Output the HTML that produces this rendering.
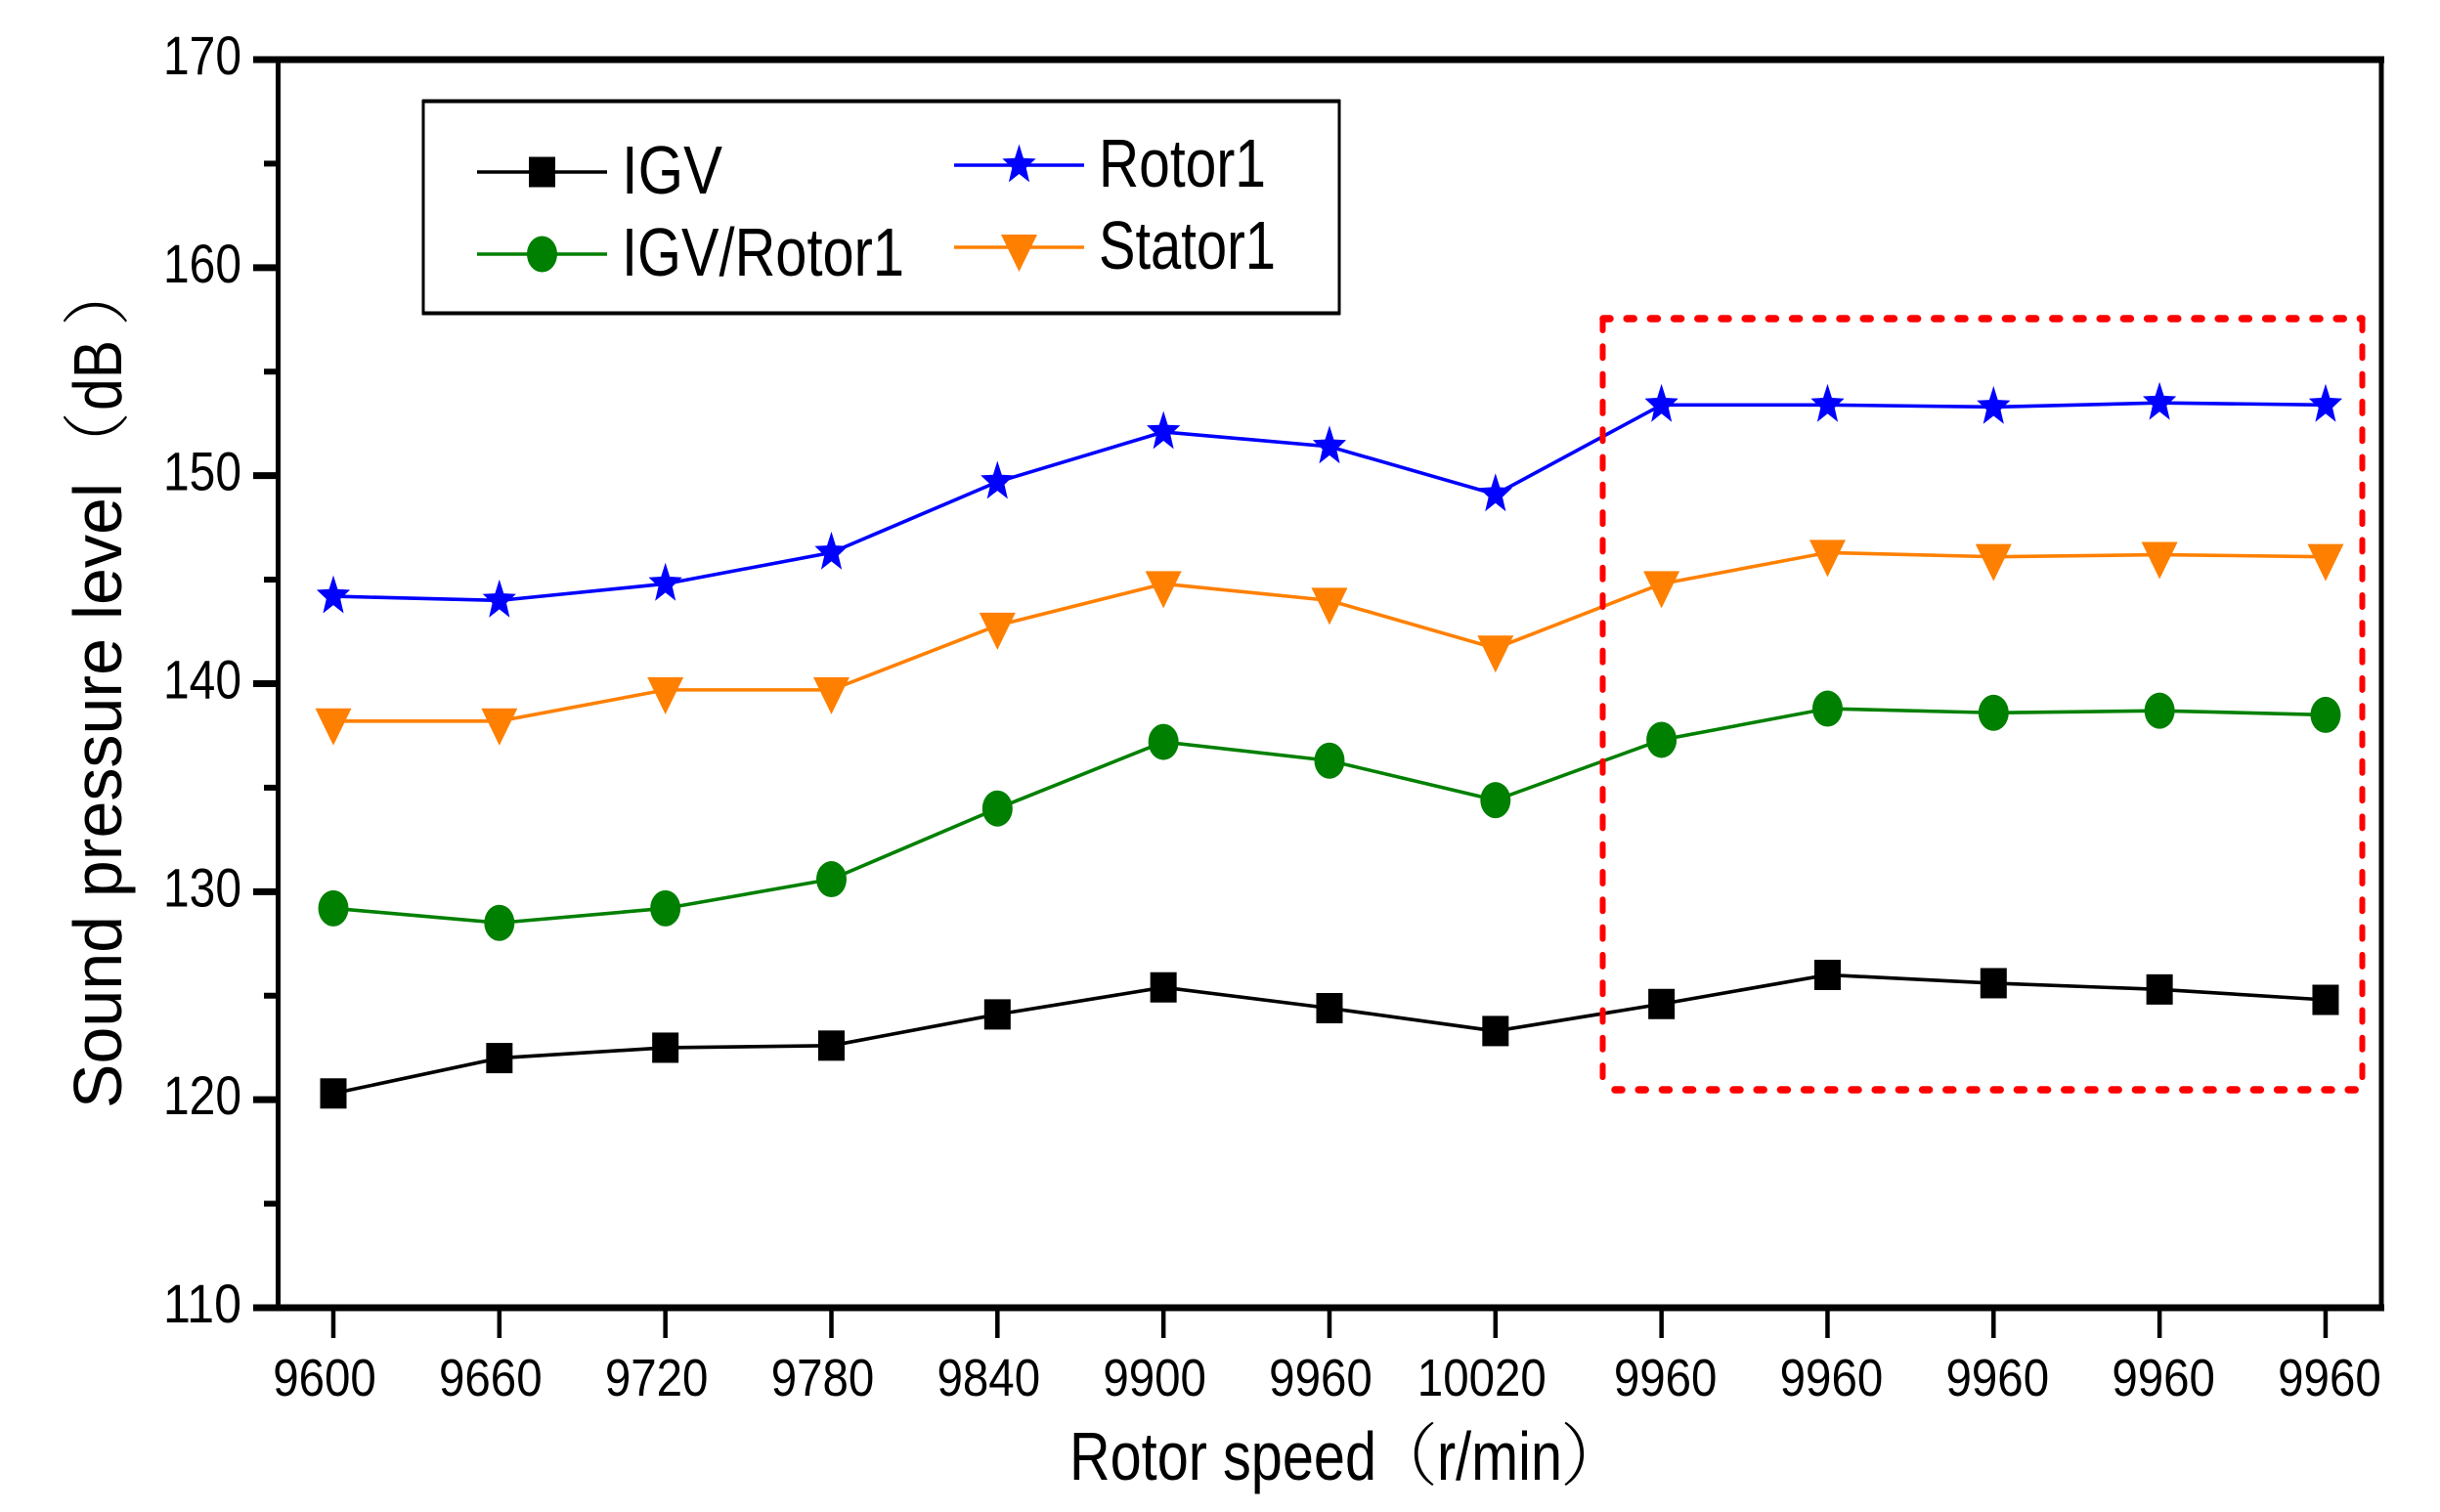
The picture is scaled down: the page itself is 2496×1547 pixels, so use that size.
<!DOCTYPE html>
<html lang="en">
<head>
<meta charset="utf-8">
<title>Sound pressure level vs rotor speed</title>
<style>
html,body{margin:0;padding:0;background:#fff;width:2496px;height:1547px;overflow:hidden}
svg{display:block}
text{font-family:"Liberation Sans","Noto Sans CJK SC",sans-serif;fill:#000}
.paren{font-family:"Noto Serif CJK SC","Noto Sans CJK SC",serif;font-weight:200}
</style>
</head>
<body>
<svg id="chart" xmlns="http://www.w3.org/2000/svg" width="2496" height="1547" viewBox="0 0 2496 1547">
  <rect x="0" y="0" width="2496" height="1547" fill="#fff"/>
  <text transform="translate(124,1134) rotate(-90)" font-size="70"><tspan x="0" textLength="640" lengthAdjust="spacingAndGlyphs">Sound pressure level</tspan><tspan class="paren" x="643">（</tspan><tspan x="714" textLength="72" lengthAdjust="spacingAndGlyphs">dB</tspan><tspan class="paren" x="800">）</tspan></text>
  <text y="1514" font-size="70"><tspan x="1094" textLength="314" lengthAdjust="spacingAndGlyphs">Rotor speed</tspan><tspan class="paren" x="1401">（</tspan><tspan x="1470" textLength="128" lengthAdjust="spacingAndGlyphs">r/min</tspan><tspan class="paren" x="1596">）</tspan></text>
  <g id="axes"></g>
  <g id="series"></g>
  <g stroke="#ff0000" fill="none" stroke-linecap="round">
    <line x1="1640" y1="326" x2="2416" y2="326" stroke-width="7.5" stroke-dasharray="7 17.2"/>
    <line x1="1652" y1="1115" x2="2416" y2="1115" stroke-width="7.5" stroke-dasharray="7 17.2"/>
    <line x1="1639.5" y1="326" x2="1639.5" y2="1110" stroke-width="6" stroke-dasharray="12 16.3"/>
    <line x1="2416.5" y1="326" x2="2416.5" y2="1110" stroke-width="6" stroke-dasharray="12 16.3"/>
  </g>
  <g id="legend">
    <rect x="433" y="103.5" width="937" height="217" fill="none" stroke="#000" stroke-width="3"/>
    <line x1="432" y1="103.5" x2="1371" y2="103.5" stroke="#000" stroke-width="4"/>
    <line x1="432" y1="320.5" x2="1371" y2="320.5" stroke="#000" stroke-width="4"/>
    <text x="636" y="198" font-size="70" textLength="103" lengthAdjust="spacingAndGlyphs">IGV</text>
    <text x="636" y="282" font-size="70" textLength="289" lengthAdjust="spacingAndGlyphs">IGV/Rotor1</text>
    <text x="1124" y="191" font-size="70" textLength="171" lengthAdjust="spacingAndGlyphs">Rotor1</text>
    <text x="1124" y="275" font-size="70" textLength="181" lengthAdjust="spacingAndGlyphs">Stator1</text>
  </g>
</svg>
<script>
const categories = ['9600','9660','9720','9780','9840','9900','9960','10020','9960','9960','9960','9960','9960'];
const yTickLabels = [110,120,130,140,150,160,170];
const yMinorTicks = [115,125,135,145,155,165];
const igvValues = [120.3,122.0,122.5,122.6,124.1,125.4,124.4,123.3,124.6,126.0,125.6,125.3,124.8];
const igvRotor1Values = [129.2,128.5,129.2,130.6,134.0,137.2,136.3,134.4,137.3,138.8,138.6,138.7,138.5];
const rotor1Values = [144.2,144.0,144.8,146.3,149.7,152.1,151.4,149.1,153.4,153.4,153.3,153.5,153.4];
const stator1Values = [138.2,138.2,139.7,139.7,142.8,144.8,144.0,141.7,144.8,146.3,146.1,146.2,146.1];

const NS = 'http://www.w3.org/2000/svg';
const axes = document.getElementById('axes');
const seriesRoot = document.getElementById('series');
const legend = document.getElementById('legend');

function xScale(i){ return 341 + i * 169.83; }
function yScale(v){ return 61 + (170 - v) * 21.283; }

function make(tag, attrs, parent){
  const el = document.createElementNS(NS, tag);
  for (const k in attrs) el.setAttribute(k, attrs[k]);
  parent.appendChild(el);
  return el;
}

function drawMarker(kind, cx, cy, color, parent){
  let el;
  if (kind === 'square') {
    el = make('rect', {x: cx - 13.5, y: cy - 15.5, width: 27, height: 31, fill: color}, parent);
  } else if (kind === 'circle') {
    el = make('ellipse', {cx: cx, cy: cy, rx: 15.5, ry: 18.5, fill: color}, parent);
  } else if (kind === 'star') {
    const pts = [];
    for (let k = 0; k < 10; k++) {
      const a = -Math.PI / 2 + k * Math.PI / 5;
      const f = k % 2 ? 0.42 : 1;
      pts.push((cx + 18 * f * Math.cos(a)).toFixed(1) + ',' + (cy + 21.5 * f * Math.sin(a)).toFixed(1));
    }
    el = make('polygon', {points: pts.join(' '), fill: color}, parent);
  } else {
    const pts = [(cx - 18.5) + ',' + (cy - 13), (cx + 18.5) + ',' + (cy - 13), cx + ',' + (cy + 25)];
    el = make('polygon', {points: pts.join(' '), fill: color}, parent);
  }
  return el;
}

/* axis frame */
const frame = make('rect', {x: 284.5, y: 61, width: 2151.5, height: 1277, fill: 'none', stroke: '#000', 'stroke-width': 5}, axes);


const topAxis = make('line', {x1: 259, y1: 61, x2: 2439, y2: 61, stroke: '#000', 'stroke-width': 7}, axes);


const bottomAxis = make('line', {x1: 259, y1: 1338, x2: 2439, y2: 1338, stroke: '#000', 'stroke-width': 7}, axes);



/* y ticks */
yTickLabels.forEach(function(v){
  const t = make('line', {x1: 259, y1: yScale(v), x2: 284, y2: yScale(v), stroke: '#000', 'stroke-width': 7}, axes);
  
  
  const lab = make('text', {x: 247, y: yScale(v) + 15, 'font-size': 56, 'text-anchor': 'end', textLength: 80, lengthAdjust: 'spacingAndGlyphs'}, axes);
  lab.textContent = String(v);
  
  
});
yMinorTicks.forEach(function(v){
  const t = make('line', {x1: 270, y1: yScale(v), x2: 284, y2: yScale(v), stroke: '#000', 'stroke-width': 6}, axes);
  
  
});

/* x ticks */
categories.forEach(function(c, i){
  const t = make('line', {x1: xScale(i), y1: 1338, x2: xScale(i), y2: 1369, stroke: '#000', 'stroke-width': 4.5}, axes);
  
  
  const nudge = i === 7 ? -14 : (i < 7 ? -9 : 4);
  const lab = make('text', {x: xScale(i) + nudge, y: 1428, 'font-size': 54, 'text-anchor': 'middle', textLength: c.length * 26.4, lengthAdjust: 'spacingAndGlyphs'}, axes);
  lab.textContent = c;
  
  
});

/* series */
function drawSeries(values, color, kind, name){
  const g = make('g', {}, seriesRoot);
  
  
  const line = make('polyline', {
    points: values.map(function(v, i){ return xScale(i) + ',' + yScale(v); }).join(' '),
    fill: 'none', stroke: color, 'stroke-width': 3.6
  }, g);
  
  
  values.forEach(function(v, i){
    const m = drawMarker(kind, xScale(i), yScale(v), color, g);
    
    
  });
}
drawSeries(igvValues, '#000000', 'square', 'igv');
drawSeries(igvRotor1Values, '#008000', 'circle', 'igv-rotor1');
drawSeries(rotor1Values, '#0000ff', 'star', 'rotor1');
drawSeries(stator1Values, '#ff8000', 'triangle', 'stator1');

/* legend keys */
function legendKey(x1, y, color, kind, name){
  const line = make('line', {x1: x1, y1: y, x2: x1 + 133, y2: y, stroke: color, 'stroke-width': 3.6}, legend);
  
  
  const m = drawMarker(kind, x1 + 66.5, y, color, legend);
  
  
}
legendKey(488, 176, '#000000', 'square', 'igv');
legendKey(488, 260, '#008000', 'circle', 'igv-rotor1');
legendKey(976, 169, '#0000ff', 'star', 'rotor1');
legendKey(976, 253, '#ff8000', 'triangle', 'stator1');
</script>
</body>
</html>
